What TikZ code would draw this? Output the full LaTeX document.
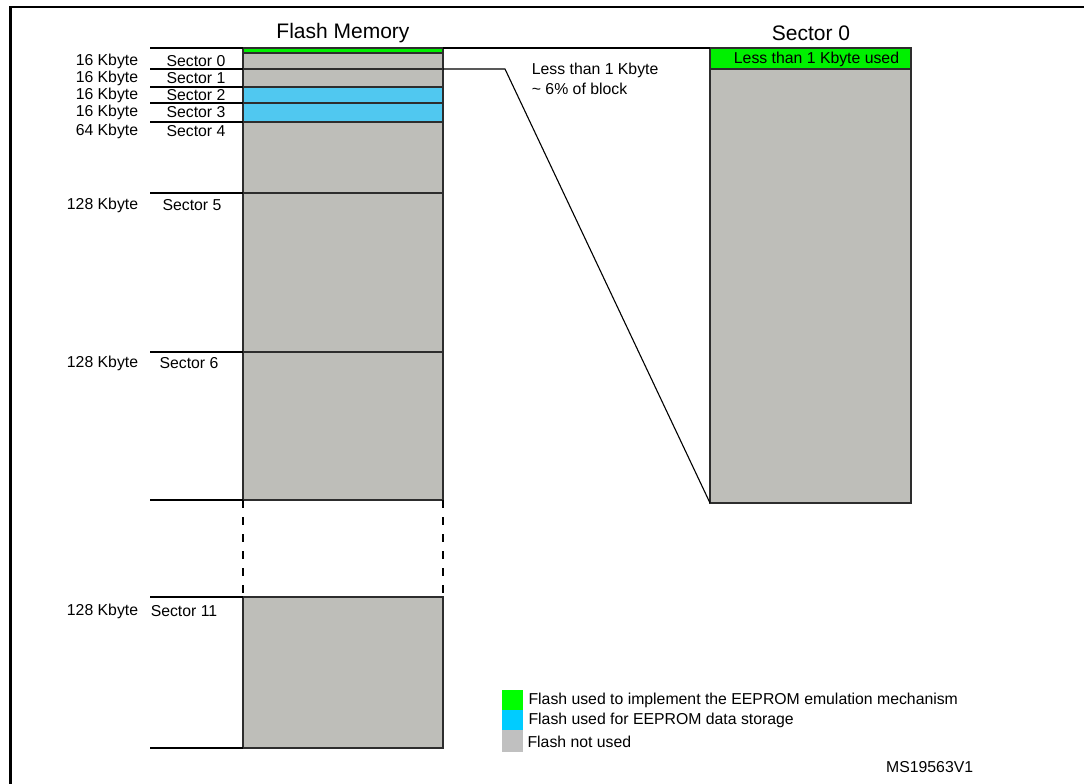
\documentclass[tikz,border=0pt]{standalone}
\usepackage{fontspec}
\setmainfont{Liberation Sans}
\usetikzlibrary{positioning}

\definecolor{unused}{RGB}{190,190,185}
\definecolor{datablue}{RGB}{80,200,240}
\definecolor{emugreen}{RGB}{0,240,0}
\definecolor{keygreen}{RGB}{0,255,0}
\definecolor{keyblue}{RGB}{0,204,255}
\definecolor{keygray}{RGB}{192,192,192}
\definecolor{edge}{RGB}{45,45,45}

\begin{document}
\begin{tikzpicture}[x = 1pt, y = -1pt, line width = 1.1pt, font = \fontsize{15.8}{18}\selectfont,
		sect/.style = {draw = edge, line width = 1.3pt, fill = unused, inner sep = 0pt, outer sep = 0pt, minimum width = 200pt},
		key/.style = {inner sep = 0pt, outer sep = 0pt, minimum width = 21pt, minimum height = 20pt},
		gap/.style = {line width = 2.6pt, dash pattern = on 8pt off 9pt},
		title/.style = {font = \fontsize{21}{24}\selectfont}]
		\useasboundingbox (0, 0) rectangle (1084, 784);
		\draw [line width = 2.5pt] (10.5, 784) -- (10.5, 7) -- (1084, 7);

		% flash memory column
		\node [title] (fm) at (343, 33) {Flash Memory};
		\node [sect, fill = emugreen, minimum height = 5pt] (g0) at (343, 50.5) {};
		\node [sect, minimum height = 16pt] (s0) at (343, 61) {};
		\node [sect, minimum height = 18pt] (s1) at (343, 78) {};
		\node [sect, fill = datablue, minimum height = 16pt] (s2) at (343, 95) {};
		\node [sect, fill = datablue, minimum height = 19pt] (s3) at (343, 112.5) {};
		\node [sect, minimum height = 71pt] (s4) at (343, 157.5) {};
		\node [sect, minimum height = 159pt] (s5) at (343, 272.5) {};
		\node [sect, minimum height = 148pt] (s6) at (343, 426) {};
		\node [sect, minimum height = 151pt] (s11) at (343, 672.5) {};
		\draw [gap] (s6.south west) -- (s11.north west);
		\draw [gap] (s6.south east) -- (s11.north east);

		% ticks on the left
		\draw (150, 48) -- (g0.north west);
		\draw (150, 69) -- (s1.north west);
		\draw (150, 87) -- (s2.north west);
		\draw (150, 103) -- (s3.north west);
		\draw (150, 122) -- (s4.north west);
		\draw (150, 193) -- (s5.north west);
		\draw (150, 352) -- (s6.north west);
		\draw (150, 500) -- (s6.south west);
		\draw (150, 597) -- (s11.north west);
		\draw (150, 748) -- (s11.south west);

		\node at (142, 61) [anchor = east] {16 Kbyte};
		\node at (142, 78) [anchor = east] {16 Kbyte};
		\node at (142, 95) [anchor = east] {16 Kbyte};
		\node at (142, 112) [anchor = east] {16 Kbyte};
		\node at (142, 131) [anchor = east] {64 Kbyte};
		\node at (142, 205) [anchor = east] {128 Kbyte};
		\node at (142, 363) [anchor = east] {128 Kbyte};
		\node at (142, 611) [anchor = east] {128 Kbyte};
		\node at (196, 61) {Sector 0};
		\node at (196, 78) {Sector 1};
		\node at (196, 95) {Sector 2};
		\node at (196, 112) {Sector 3};
		\node at (196, 131) {Sector 4};
		\node at (192, 205) {Sector 5};
		\node at (189, 363) {Sector 6};
		\node at (184, 611) {Sector 11};

		% zoom on sector 0
		\node [title] (zt) at (811, 33) {Sector 0};
		\node [sect, fill = emugreen, minimum width = 201pt, minimum height = 21pt] (zg) at (810.5, 58.5) {};
		\node [sect, minimum width = 201pt, minimum height = 434pt] (zs) at (810.5, 286) {};
		\node at ([xshift = 6pt, yshift = -1pt]zg.center) {Less than 1 Kbyte used};
		\draw (g0.north east) -- (zg.north west);
		\draw (s0.south east) -- ++(62, 0) coordinate (bend) -- (zs.south west);
		\node at (528, 70) [anchor = west] {Less than 1 Kbyte};
		\node at (528, 89) [anchor = west] {\textasciitilde{} 6\% of block};

		% legend
		\node [key, fill = keygreen] (kg) at (512.5, 700) {};
		\node [key, fill = keyblue] (kb) at (512.5, 720) {};
		\node [key, fill = keygray, minimum height = 22pt] (kn) at (512.5, 741) {};
		\node [right = 5pt of kg, inner sep = 0pt] {Flash used to implement the EEPROM emulation mechanism};
		\node [right = 5pt of kb, inner sep = 0pt] {Flash used for EEPROM data storage};
		\node [right = 4pt of kn, inner sep = 0pt, yshift = -1pt] {Flash not used};
		\node at (977, 767) [anchor = east] {MS19563V1};
	\end{tikzpicture}
\end{document}
